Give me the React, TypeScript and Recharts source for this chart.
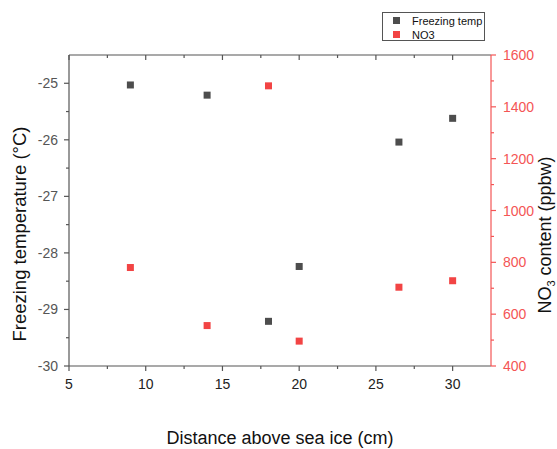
import React from 'react'
import { ScatterChart, Scatter, XAxis, YAxis, Legend } from 'recharts'

// distance above sea ice (cm)
const distanceFT = [9, 14, 18, 20, 26.5, 30]
const freezingTemp = [-25.03, -25.21, -29.21, -28.24, -26.04, -25.62]
const distanceNO3 = [9, 14, 18, 20, 26.5, 30]
const no3 = [780, 556, 1481, 496, 704, 729]

const xTicks = [5, 7.5, 10, 12.5, 15, 17.5, 20, 22.5, 25, 27.5, 30]
const leftTicks = [-30, -29.5, -29, -28.5, -28, -27.5, -27, -26.5, -26, -25.5, -25]
const rightTicks = [400, 500, 600, 700, 800, 900, 1000, 1100, 1200, 1300, 1400, 1500, 1600]

const ftData = distanceFT.map((d, i) => ({ x: d, y: freezingTemp[i] }))
const no3Data = distanceNO3.map((d, i) => ({ x: d, y: no3[i] }))

const GRAY = '#555555'
const DARK = '#4d4d4d'
const RED = '#f24444'
const AXIS_RED = '#f45555'
const FONT = '"Liberation Sans", Arial, sans-serif'

const Square = (color: string) => (props: any) => (
  <rect x={props.cx - 3.5} y={props.cy - 3.5} width={7} height={7} fill={color} />
)

const BottomTick = ({ x, y, payload }: any) => {
  const major = payload.value % 5 === 0
  return (
    <g>
      <line x1={x} x2={x} y1={y} y2={y + (major ? 5 : 3)} stroke={GRAY} strokeWidth={1.2} />
      {major && (
        <text x={x} y={y + 23} textAnchor="middle" fontSize={14} fill="#222" fontFamily={FONT}>{payload.value}</text>
      )}
    </g>
  )
}

const TopTick = ({ x, y, payload }: any) => {
  const major = payload.value % 5 === 0
  return <line x1={x} x2={x} y1={y} y2={y + (major ? 5 : 3)} stroke={GRAY} strokeWidth={1.2} />
}

const LeftTick = ({ x, y, payload }: any) => {
  const major = Number.isInteger(payload.value)
  return (
    <g>
      <line x1={x} x2={x - (major ? 5 : 3)} y1={y} y2={y} stroke={GRAY} strokeWidth={1.2} />
      {major && (
        <text x={x - 11} y={y + 5} textAnchor="end" fontSize={14} fill={GRAY} fontFamily={FONT}>{payload.value}</text>
      )}
    </g>
  )
}

const RightTick = ({ x, y, payload }: any) => {
  const major = payload.value % 200 === 0
  return (
    <g>
      <line x1={x} x2={x + (major ? 5 : 3)} y1={y} y2={y} stroke={AXIS_RED} strokeWidth={1.2} />
      {major && (
        <text x={x + 12} y={y + 5} textAnchor="start" fontSize={14} fill={AXIS_RED} fontFamily={FONT}>{payload.value}</text>
      )}
    </g>
  )
}

const BottomTitle = () => (
  <text x={280} y={444} textAnchor="middle" fontSize={18} fill="#111" fontFamily={FONT}>
    Distance above sea ice (cm)
  </text>
)

const LeftTitle = () => (
  <text x={0} y={0} transform="translate(26,234) rotate(-90)" textAnchor="middle" fontSize={18.5} fill="#111" fontFamily={FONT}>
    Freezing temperature (°C)
  </text>
)

const RightTitle = () => (
  <text x={0} y={0} transform="translate(551,235) rotate(-90)" textAnchor="middle" fontSize={18} fill="#111" fontFamily={FONT}>
    NO<tspan fontSize={11} dy={4}>3</tspan><tspan dy={-4}> content (ppbw)</tspan>
  </text>
)

const LegendBox = () => (
  <div style={{
    border: '1px solid #555', width: 103, height: 29, boxSizing: 'border-box',
    fontFamily: FONT, fontSize: 11, color: '#111', background: '#fff', position: 'relative',
  }}>
    {[{ name: 'Freezing temp', color: DARK }, { name: 'NO3', color: RED }].map((it, i) => (
      <div key={it.name} style={{
        position: 'absolute', left: 0, top: 1 + i * 14, height: 13, display: 'flex',
        alignItems: 'center', whiteSpace: 'nowrap',
      }}>
        <span style={{ display: 'inline-block', width: 7, height: 7, background: it.color, marginLeft: 10, marginRight: 12 }} />
        <span>{it.name}</span>
      </div>
    ))}
  </div>
)

export default function App() {
  return (
    <div style={{ position: 'absolute', left: 0, top: 0, width: 557, height: 449, background: '#fff' }}>
      <ScatterChart width={557} height={449} margin={{ top: 0, right: 0, bottom: 0, left: 0 }}>
        <XAxis xAxisId="top" orientation="top" dataKey="x" type="number" domain={[5, 32.5]} ticks={xTicks} interval={0}
          height={55} tickSize={0} tickMargin={0} tickLine={false} axisLine={{ stroke: GRAY, strokeWidth: 1.2 }} tick={<TopTick />} />
        <XAxis xAxisId="bottom" orientation="bottom" dataKey="x" type="number" domain={[5, 32.5]} ticks={xTicks} interval={0}
          height={54} tickSize={0} tickMargin={0} tickLine={false} axisLine={{ stroke: GRAY, strokeWidth: 1.2 }} tick={<BottomTick />}
          label={<BottomTitle />} />
        <YAxis yAxisId="left" orientation="left" dataKey="y" type="number" domain={[-30, -24.5]} ticks={leftTicks} interval={0}
          width={69} tickSize={0} tickMargin={0} tickLine={false} axisLine={{ stroke: GRAY, strokeWidth: 1.2 }} tick={<LeftTick />}
          label={<LeftTitle />} />
        <YAxis yAxisId="right" orientation="right" dataKey="y" type="number" domain={[400, 1600]} ticks={rightTicks} interval={0}
          width={66} tickSize={0} tickMargin={0} tickLine={false} axisLine={{ stroke: AXIS_RED, strokeWidth: 1.2 }} tick={<RightTick />}
          label={<RightTitle />} />
        <Legend content={<LegendBox />} wrapperStyle={{ position: 'absolute', left: 382, top: 12, width: 103 }} />
        <Scatter name="Freezing temp" data={ftData} xAxisId="bottom" yAxisId="left" fill={DARK} shape={Square(DARK)} isAnimationActive={false} />
        <Scatter name="NO3" data={no3Data} xAxisId="top" yAxisId="right" fill={RED} shape={Square(RED)} isAnimationActive={false} />
      </ScatterChart>
    </div>
  )
}
